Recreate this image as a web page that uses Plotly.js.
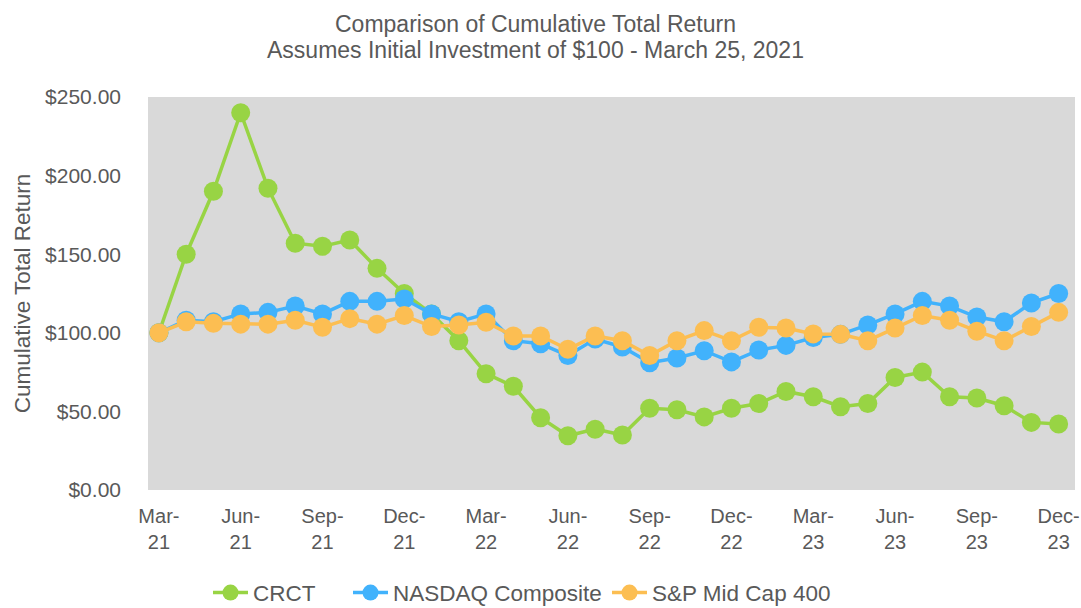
<!DOCTYPE html>
<html>
<head>
<meta charset="utf-8">
<script src="https://cdn.plot.ly/plotly-3.0.1.min.js"></script>
<style>html,body{margin:0;padding:0;background:#fff;}#chart{width:1081px;height:608px;}</style>
</head>
<body>
<div id="chart"></div>
<script>
const months = ["Mar-21","Apr-21","May-21","Jun-21","Jul-21","Aug-21","Sep-21","Oct-21","Nov-21","Dec-21",
  "Jan-22","Feb-22","Mar-22","Apr-22","May-22","Jun-22","Jul-22","Aug-22","Sep-22","Oct-22","Nov-22","Dec-22",
  "Jan-23","Feb-23","Mar-23","Apr-23","May-23","Jun-23","Jul-23","Aug-23","Sep-23","Oct-23","Nov-23","Dec-23"];
const crct = [100,150,190,240,192,157,155,159,141,125,112,95,74,66,46,34.5,38.7,35,52,51,46.5,52,55,62.7,59.3,53,55,71.6,75,59.3,58.5,53.6,43,42];
const nasdaq = [100,108,107,112,113,117,112,120,120,121.5,112,107,112,95,93,85.5,96,91,81,84,88.6,81.5,89,92,97,99,105,112,120,117,110,107,119,125];
const spmid = [100,107,106,105.5,105.5,108,103.5,109,105.5,111,104,105,106.7,98,98,89.5,98,95,85.5,95,101.4,95,103.5,103,99.3,99,95,103,111,108,101,95,104,113];
const tickMonths = ["Mar-21","Jun-21","Sep-21","Dec-21","Mar-22","Jun-22","Sep-22","Dec-22","Mar-23","Jun-23","Sep-23","Dec-23"];
const tickLabels = ["Mar-<br>21","Jun-<br>21","Sep-<br>21","Dec-<br>21","Mar-<br>22","Jun-<br>22","Sep-<br>22","Dec-<br>22","Mar-<br>23","Jun-<br>23","Sep-<br>23","Dec-<br>23"];
const titleLines = ["Comparison of Cumulative Total Return", "Assumes Initial Investment of $100 - March 25, 2021"];

const font = "Liberation Sans, Arial, sans-serif";
const grey = "#595959";
function tr(name, y, color, leg){
  return {x: months, y: y, name: name, type: "scatter", mode: "lines+markers", legend: leg,
    line: {color: color, width: 3.5}, marker: {color: color, size: 19, line: {width: 0}}};
}
const data = [tr("CRCT", crct, "#98d444", "legend"), tr("NASDAQ Composite", nasdaq, "#41b2fc", "legend2"),
  tr("S&P Mid Cap 400", spmid, "#fcbe52", "legend3")];
function leg(px){
  return {orientation: "h", x: (px - 148) / 927, xanchor: "left", y: -0.262, yanchor: "middle",
    font: {size: 22.5, color: grey}, bgcolor: "rgba(0,0,0,0)", itemwidth: 35};
}
const layout = {
  width: 1081, height: 608,
  margin: {l: 148, r: 6, t: 97, b: 118, autoexpand: false},
  paper_bgcolor: "#ffffff", plot_bgcolor: "#d9d9d9",
  font: {family: font, color: grey},
  annotations: [
    {text: titleLines[0], xref: "paper", yref: "paper", x: 0.418, y: (490 - 24) / 393, xanchor: "center", yanchor: "middle",
      showarrow: false, font: {size: 23, color: grey}},
    {text: titleLines[1], xref: "paper", yref: "paper", x: 0.418, y: (490 - 50) / 393, xanchor: "center", yanchor: "middle",
      showarrow: false, font: {size: 23, color: grey}}
  ],
  xaxis: {type: "category", range: [-0.4, 33.6], tickmode: "array", tickvals: tickMonths, ticktext: tickLabels,
    showgrid: false, zeroline: false, showline: false, ticks: "", tickfont: {size: 20, color: grey},
    ticklabelstandoff: 12, fixedrange: true},
  yaxis: {range: [0, 250], dtick: 50, tickprefix: "$", tickformat: ",.2f", showgrid: false, zeroline: false,
    showline: false, ticks: "", tickfont: {size: 21, color: grey}, ticklabelstandoff: 26,
    title: {text: "Cumulative Total Return", font: {size: 22.5, color: grey}, standoff: 8}},
  showlegend: true,
  legend: leg(208), legend2: leg(348), legend3: leg(607),
};
Plotly.newPlot("chart", data, layout, {displayModeBar: false, staticPlot: true});
</script>
</body>
</html>
